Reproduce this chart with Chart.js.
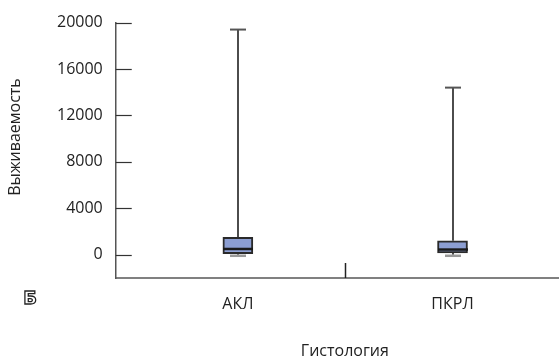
<!DOCTYPE html>
<html>
<head>
<meta charset="utf-8">
<script src="https://cdn.jsdelivr.net/npm/chart.js@4/dist/chart.umd.min.js"></script>
<style>
  html, body { margin: 0; padding: 0; background: #fff; width: 559px; height: 358px; overflow: hidden; }
  #wrap { position: absolute; left: 0; top: 0; width: 576px; height: 358px; }
</style>
</head>
<body>
<div id="wrap"><canvas id="c" width="576" height="358"></canvas></div>
<script>
const categories = ['АКЛ', 'ПКРЛ'];
const minValues = [0, 0];
const q1Values = [100, 150];
const medianValues = [500, 450];
const q3Values = [1500, 1200];
const maxValues = [19400, 14400];
const yTickValues = [0, 4000, 8000, 12000, 16000, 20000];
const yTitle = 'Выживаемость';
const xTitle = 'Гистология';
const panelLetter = 'Б';

const FONT = '"Open Sans", "Noto Sans", sans-serif';

const boxPlugin = {
  id: 'boxExtras',
  beforeDatasetsDraw(chart) {
    const { ctx, scales: { x, y } } = chart;
    ctx.save();
    ctx.strokeStyle = '#3a3a3a';
    ctx.lineWidth = 1.8;
    categories.forEach((c, i) => {
      const px = Math.round(x.getPixelForValue(i));
      ctx.beginPath();
      ctx.moveTo(px, y.getPixelForValue(maxValues[i]));
      ctx.lineTo(px, y.getPixelForValue(q3Values[i]));
      ctx.moveTo(px, y.getPixelForValue(q1Values[i]));
      ctx.lineTo(px, y.getPixelForValue(minValues[i]));
      ctx.stroke();
    });
    ctx.restore();
  },
  afterDatasetsDraw(chart) {
    const { ctx, scales: { x, y } } = chart;
    ctx.save();
    categories.forEach((c, i) => {
      const px = Math.round(x.getPixelForValue(i));
      ctx.strokeStyle = '#555';
      ctx.lineWidth = 2;
      ctx.beginPath();
      const ty = y.getPixelForValue(maxValues[i]);
      ctx.moveTo(px - 8, ty); ctx.lineTo(px + 8, ty);
      ctx.stroke();
      ctx.strokeStyle = '#999';
      ctx.lineWidth = 2.5;
      ctx.beginPath();
      const by = y.getPixelForValue(minValues[i]) + 1;
      ctx.moveTo(px - 8, by); ctx.lineTo(px + 8, by);
      ctx.stroke();
      ctx.strokeStyle = '#1a1a1a';
      ctx.lineWidth = 2.5;
      ctx.beginPath();
      const my = y.getPixelForValue(medianValues[i]);
      ctx.moveTo(px - 15, my); ctx.lineTo(px + 15, my);
      ctx.stroke();
    });
    ctx.restore();
  },
  afterDraw(chart) {
    const { ctx, scales: { x, y }, chartArea } = chart;
    ctx.save();
    ctx.strokeStyle = '#333';
    ctx.lineWidth = 1.2;
    y.ticks.forEach(t => {
      const py = Math.round(y.getPixelForValue(t.value)) + 0.5;
      ctx.beginPath();
      ctx.moveTo(chartArea.left, py);
      ctx.lineTo(chartArea.left + 16, py);
      ctx.stroke();
    });
    const bx = Math.round(x.getPixelForValue(0.5)) + 0.5;
    ctx.strokeStyle = '#222';
    ctx.lineWidth = 1.5;
    ctx.beginPath();
    ctx.moveTo(bx, chartArea.bottom);
    ctx.lineTo(bx, chartArea.bottom - 15);
    ctx.stroke();
    ctx.save();
    ctx.translate(15, 137);
    ctx.rotate(-Math.PI / 2);
    ctx.font = '16px ' + FONT;
    ctx.fillStyle = '#222';
    ctx.textAlign = 'center';
    ctx.textBaseline = 'middle';
    ctx.fillText(yTitle, 0, 0);
    ctx.restore();
    ctx.font = 'bold 18px "DejaVu Sans", sans-serif';
    ctx.textAlign = 'center';
    ctx.textBaseline = 'middle';
    ctx.lineWidth = 1.3;
    ctx.fillStyle = '#fff';
    ctx.strokeStyle = '#222';
    ctx.fillText(panelLetter, 30, 299);
    ctx.strokeText(panelLetter, 30, 299);
    ctx.restore();
  }
};

new Chart(document.getElementById('c'), {
  type: 'bar',
  data: {
    datasets: [{
      data: categories.map((c, i) => ({ x: i, y: [q1Values[i], q3Values[i]] })),
      backgroundColor: '#8c9ed2',
      borderColor: '#2a2a2a',
      borderWidth: 2,
      borderSkipped: false,
      barThickness: 30
    }]
  },
  options: {
    responsive: false,
    animation: false,
    layout: { padding: { left: 44, top: 22, right: 2, bottom: -3 } },
    plugins: { legend: { display: false }, tooltip: { enabled: false } },
    scales: {
      x: {
        type: 'linear',
        offset: false,
        min: -0.569,
        max: 1.566,
        afterBuildTicks: s => { s.ticks = categories.map((c, i) => ({ value: i })); },
        grid: { display: false, drawTicks: false, offset: false },
        border: { display: true, color: '#808080', width: 2 },
        ticks: { color: '#222', font: { family: FONT, size: 16 }, padding: 17, callback: v => categories[v] ?? '' },
        title: { display: true, text: xTitle, color: '#222', font: { family: FONT, size: 16 }, padding: { top: 10.6, bottom: 0 } }
      },
      y: {
        min: -2000,
        max: 20000,
        afterBuildTicks: s => { s.ticks = yTickValues.map(v => ({ value: v })); },
        grid: { display: false, drawTicks: false },
        border: { display: true, color: '#555', width: 1.5 },
        ticks: { color: '#222', font: { family: FONT, size: 16 }, padding: 13, callback: v => String(v) }
      }
    }
  },
  plugins: [boxPlugin]
});
</script>
</body>
</html>
